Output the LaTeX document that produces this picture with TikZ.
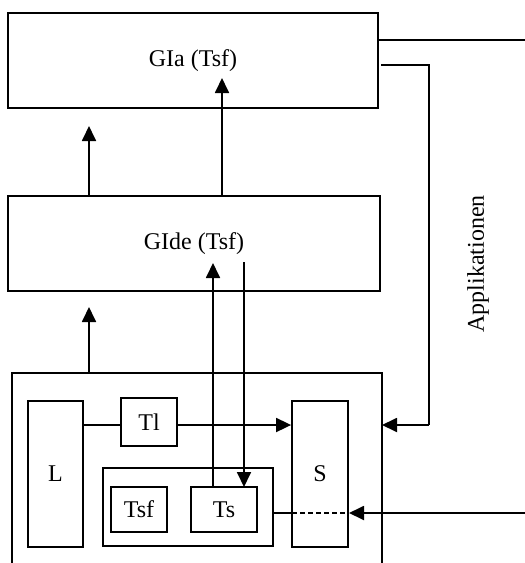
\documentclass[tikz,border=0pt]{standalone}
\usepackage{fontspec}
\setmainfont{Liberation Serif}
\usetikzlibrary{arrows.meta}
\begin{document}
\begin{tikzpicture}[x=1pt,y=-1pt,
  box/.style={draw,line width=1.8pt,inner sep=0pt,font=\fontsize{24}{28}\selectfont},
  thinbox/.style={draw,line width=1.1pt,inner sep=0pt,font=\fontsize{24}{28}\selectfont},
  thin line/.style={line width=1.1pt},
  arr/.style={line width=1.8pt,-{Triangle[length=15pt,width=14pt]}}]
\useasboundingbox (0,0) rectangle (525,563);
\begin{scope}
\clip (0,0) rectangle (525,563);
\node[box,minimum width=370pt,minimum height=95pt] (gia) at (193,60.5) {GIa (Tsf)};
\node[box,minimum width=372pt,minimum height=95pt] (gide) at (194,243.5) {GIde (Tsf)};
\node[box,minimum width=370pt,minimum height=227pt] (outer) at (197,486.5) {};
\node[box,minimum width=55pt,minimum height=146pt] (L) at (55.5,474) {L};
\node[box,minimum width=56pt,minimum height=48pt] (Tl) at (149,422) {Tl};
\node[box,minimum width=56pt,minimum height=146pt] (S) at (320,474) {S};
\node[thinbox,minimum width=170pt,minimum height=78pt] (inner) at (188,507) {};
\node[thinbox,minimum width=56pt,minimum height=45pt] (Tsf) at (139,509.5) {Tsf};
\node[box,minimum width=66pt,minimum height=45pt] (Ts) at (224,509.5) {Ts};
\node[rotate=90,font=\fontsize{24}{28}\selectfont] (app) at (478,264) {Applikationen};

\coordinate (a1s) at (89,373);
\coordinate (a1e) at (89,307);
\coordinate (a2s) at (89,196);
\coordinate (a2e) at (89,126);
\coordinate (a3s) at (222,196);
\coordinate (a3e) at (222,78);
\coordinate (a4s) at (213,487);
\coordinate (a4e) at (213,263);
\coordinate (a5s) at (244,262);
\coordinate (a5e) at (244,487);
\coordinate (r1s) at (378,40);
\coordinate (r1e) at (525,40);
\coordinate (r2s) at (381,65);
\coordinate (r2c) at (429,65);
\coordinate (r2d) at (429,425);
\coordinate (r2e) at (382,425);
\coordinate (r3s) at (525,513);
\coordinate (sl) at (292,513);
\coordinate (sr) at (349,513);
\coordinate (ir) at (273,513);

\draw[arr] (a1s) -- (a1e);
\draw[arr] (a2s) -- (a2e);
\draw[arr] (a3s) -- (a3e);
\draw[arr] (a4s) -- (a4e);
\draw[arr] (a5s) -- (a5e);
\draw[thin line] (r1s) -- (r1e);
\draw[thin line] (r2s) -- (r2c) -- (r2d);
\draw[arr] (r2d) -- (r2e);
\draw[thin line] (L.east |- 0,425) -- (Tl.west |- 0,425);
\draw[arr] (Tl.east |- 0,425) -- (S.west |- 0,425);
\draw[line width=1.4pt] (ir) -- (sl);
\draw[line width=1.4pt,dash pattern=on 5pt off 3pt] (sl) -- (sr);
\draw[arr] (r3s) -- (sr);
\end{scope}
\end{tikzpicture}
\end{document}
